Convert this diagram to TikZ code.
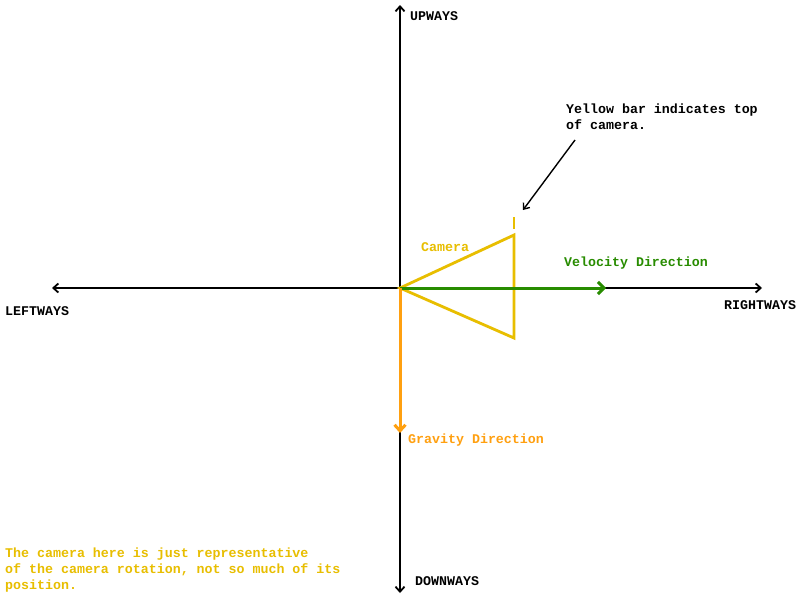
\documentclass[tikz,border=0pt]{standalone}
\usepackage{fontspec}
\setmonofont{Liberation Mono}
\usepackage{tikz}
\usetikzlibrary{arrows.meta}
\definecolor{camyellow}{RGB}{232,190,0}
\definecolor{gravorange}{RGB}{255,160,16}
\definecolor{velgreen}{RGB}{40,140,0}

\begin{document}
\begin{tikzpicture}[x=1pt,y=-1pt,
  lbl/.style={anchor=base west,inner sep=0pt,font=\ttfamily\bfseries\fontsize{13.3}{16}\selectfont,align=left},
  axis/.style={black,line width=1.8pt,{Straight Barb[length=5pt,width=9pt]}-{Straight Barb[length=5pt,width=9pt]}},
  vec/.style n args={2}{#1,line width=3pt,-{Straight Barb[length=6pt,width=#2]}}]
\useasboundingbox[fill=white] (0,0) rectangle (800,600);
\coordinate (o) at (400,288);
\coordinate (up) at (400,5);
\coordinate (down) at (400,593);
\coordinate (left) at (52,288);
\coordinate (right) at (762,288);
\draw[axis] (left) -- (right);
\draw[axis] (up) -- (down);
\foreach \n/\x/\y/\t in %
{upl/410/20/UPWAYS,leftl/5/315/LEFTWAYS,rightl/724/309/RIGHTWAYS,downl/415/585/DOWNWAYS} {
   \node[lbl] (\n) at (\x,\y) {\t};
}
% camera
\coordinate (camtop) at (514,235);
\coordinate (cambot) at (514,338);
\coordinate (bartop) at (514,217);
\coordinate (barbot) at (514,229);
\draw[camyellow,line width=2.8pt,line join=miter] (o) -- (camtop) -- (cambot) -- cycle;
\draw[camyellow,line width=2.8pt] (bartop) -- (barbot);
\node[lbl,text=camyellow] (cam) at (421,251) {Camera};
% directions
\coordinate (vel) at (606,288);
\coordinate (grav) at (400,433);
\draw[vec={velgreen}{12pt}] (o) -- (vel);
\draw[vec={gravorange}{11pt}] (o) -- (grav);
\node[lbl,text=velgreen] (vell) at (564,266) {Velocity Direction};
\node[lbl,text=gravorange] (gravl) at (408,443) {Gravity Direction};
% note
\node[lbl] (note) at (566,129) {Yellow bar indicates top\\of camera.};
\coordinate (notefrom) at (575,140);
\coordinate (noteto) at (523,210);
\draw[black,line width=1.4pt,-{Straight Barb[length=5pt,width=8pt]}] (notefrom) -- (noteto);
\node[lbl,text=camyellow] (remark) at (5,589) {The camera here is just representative\\of the camera rotation, not so much of its\\position.};
\end{tikzpicture}
\end{document}
